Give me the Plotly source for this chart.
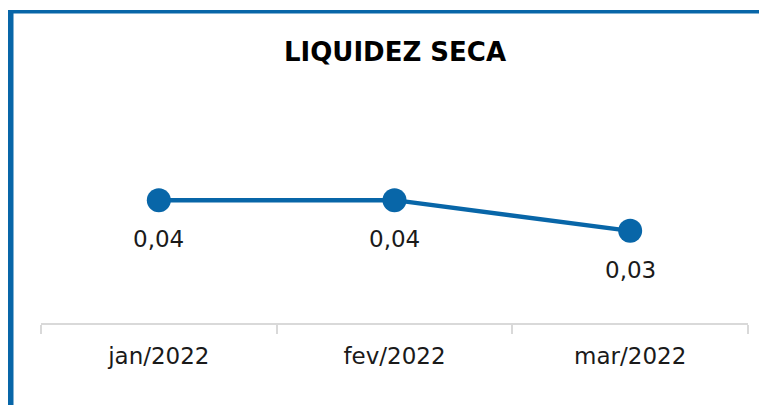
import plotly.graph_objects as go

categories = ["jan/2022", "fev/2022", "mar/2022"]
values = [0.04, 0.04, 0.03]
labels = ["0,04", "0,04", "0,03"]
title_text = "LIQUIDEZ SECA"

W, H = 767, 405
OFF = 8  # page body margin
L, R = 41 - OFF, 748 - OFF
T, B = 108 - OFF, 323 - OFF
BLUE = "#0866A8"
FONT = "DejaVu Sans"

def px_x(p):
    return (p - OFF - L) / (R - L)

def px_y(p):
    return (B - (p - OFF)) / (B - T)

fig = go.Figure()
fig.add_trace(go.Scatter(
    x=categories, y=values, mode="lines+markers",
    line=dict(color=BLUE, width=4.5),
    marker=dict(color=BLUE, size=24),
    hoverinfo="skip", showlegend=False,
))

for c, v, t in zip(categories, values, labels):
    fig.add_annotation(x=c, y=v, text=t, showarrow=False, yshift=-39,
                       font=dict(family=FONT, size=23, color="#1a1a1a"))

fig.add_shape(type="rect", xref="paper", yref="paper",
              x0=px_x(8), x1=px_x(790), y0=px_y(10), y1=px_y(13.5),
              fillcolor=BLUE, line=dict(width=0), layer="above")
fig.add_shape(type="rect", xref="paper", yref="paper",
              x0=px_x(8), x1=px_x(13.5), y0=px_y(10), y1=px_y(430),
              fillcolor=BLUE, line=dict(width=0), layer="above")

fig.update_layout(
    width=W, height=H,
    margin=dict(l=L, r=W - R, t=T, b=H - B, pad=0),
    paper_bgcolor="white", plot_bgcolor="white",
    title=dict(text="<b>" + title_text + "</b>", x=(395 - OFF) / W, xanchor="center",
               y=1 - (52 - OFF) / H, yanchor="middle",
               font=dict(family=FONT, size=26, color="#000000")),
    xaxis=dict(type="category", range=[-0.5, 2.5], showgrid=False,
               showline=True, linecolor="#D9D9D9", linewidth=1.5,
               ticks="outside", tickson="boundaries", ticklen=9,
               tickcolor="#D9D9D9", tickwidth=1.5,
               tickfont=dict(family=FONT, size=23, color="#1a1a1a"),
               ticklabelstandoff=12, zeroline=False, fixedrange=True),
    yaxis=dict(range=[0, 0.07], visible=False, showgrid=False, zeroline=False),
)

fig.write_html("out.html")
